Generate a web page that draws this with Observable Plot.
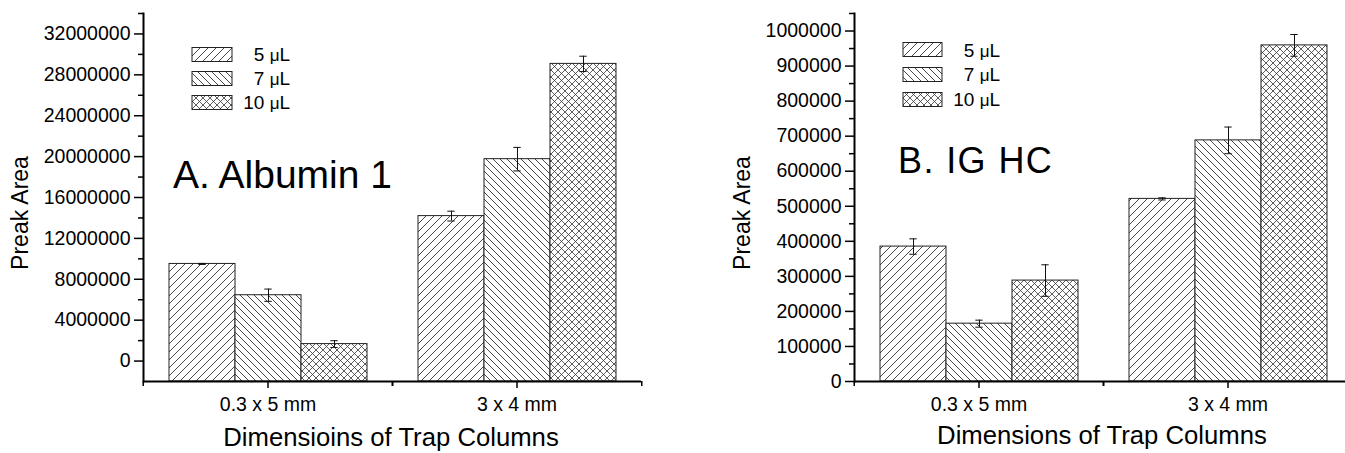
<!DOCTYPE html>
<html>
<head>
<meta charset="utf-8">
<script src="https://cdn.jsdelivr.net/npm/d3@7"></script>
<script src="https://cdn.jsdelivr.net/npm/@observablehq/plot@0.6"></script>
<style>
  html, body { margin: 0; padding: 0; background: #fff; }
  #page { position: relative; width: 1345px; height: 453px; overflow: hidden; background: #fff;
          font-family: "Liberation Sans", Arial, sans-serif; }
  #page > svg, #page > figure { position: absolute; top: 0; margin: 0; }
  #overlay { left: 0; top: 0; pointer-events: none; }
</style>
</head>
<body>
<div id="page">
  <svg width="0" height="0" style="position:absolute">
    <defs>
      <pattern id="p5" patternUnits="userSpaceOnUse" width="8" height="8">
        <rect width="8" height="8" fill="#fff"/>
        <path d="M-1,1 L1,-1 M0,8 L8,0 M7,9 L9,7" stroke="#333" stroke-width="0.9"/>
      </pattern>
      <pattern id="p7" patternUnits="userSpaceOnUse" width="7" height="7">
        <rect width="7" height="7" fill="#fff"/>
        <path d="M-1,6 L1,8 M0,0 L7,7 M6,-1 L8,1" stroke="#333" stroke-width="0.9"/>
      </pattern>
      <pattern id="p10" patternUnits="userSpaceOnUse" width="7" height="7">
        <rect width="7" height="7" fill="#fff"/>
        <path d="M-1,6 L1,8 M0,0 L7,7 M6,-1 L8,1 M-1,1 L1,-1 M0,7 L7,0 M6,8 L8,6" stroke="#333" stroke-width="0.8"/>
      </pattern>
    </defs>
  </svg>
</div>
<script>
// ---------- data ----------
const categories = ["0.3 x 5 mm", "3 x 4 mm"];
const series = ["5 μL", "7 μL", "10 μL"];
const seriesFills = ["url(#p5)", "url(#p7)", "url(#p10)"];

// Panel A: Albumin 1 (values per category)
const albumin5 = [9500000, 14180000];
const albumin7 = [6440000, 19750000];
const albumin10 = [1660000, 29070000];
const albuminErr5 = [50000, 480000];
const albuminErr7 = [600000, 1150000];
const albuminErr10 = [330000, 750000];

// Panel B: IG HC
const ighc5 = [385000, 521000];
const ighc7 = [165000, 688000];
const ighc10 = [288000, 959000];
const ighcErr5 = [22000, 3000];
const ighcErr7 = [10000, 38000];
const ighcErr10 = [45000, 31000];

// tick labels
const albuminTicks = [0, 4000000, 8000000, 12000000, 16000000, 20000000, 24000000, 28000000, 32000000];
const albuminMinor = [2000000, 6000000, 10000000, 14000000, 18000000, 22000000, 26000000, 30000000, 34000000];
const ighcTicks = [0, 100000, 200000, 300000, 400000, 500000, 600000, 700000, 800000, 900000, 1000000];
const ighcMinor = [50000, 150000, 250000, 350000, 450000, 550000, 650000, 750000, 850000, 950000, 1050000];
const albuminDomain = [-2000000, 34000000];
const ighcDomain = [0, 1050000];

function rowsOf(vals, errs) {
  const rows = [];
  categories.forEach((cat, i) => {
    series.forEach((s, j) => {
      rows.push({cat, series: s, value: vals[j][i], err: errs[j][i]});
    });
  });
  return rows;
}

function panel({rows, domain, ticks, minor, marginLeft, marginRight}) {
  const yMin = domain[0];
  const half = (680 - marginLeft - marginRight) / categories.length / 2;
  return Plot.plot({
    width: 680,
    height: 453,
    marginLeft, marginRight,
    marginTop: 13,
    marginBottom: 72,
    style: {fontFamily: "'Liberation Sans', Arial, sans-serif", fontSize: "19.5px", color: "#000", background: "transparent", overflow: "visible"},
    fx: {domain: categories, padding: 0, label: null},
    x: {domain: series, paddingInner: 0, paddingOuter: 0.37, axis: null},
    y: {domain, label: null},
    color: {domain: series, range: seriesFills},
    marks: [
      Plot.barY(rows, {fx: "cat", x: "series", y1: () => yMin, y2: "value", fill: "series", stroke: "#222", strokeWidth: 1}),
      Plot.ruleX(rows, {fx: "cat", x: "series", y1: d => d.value - d.err, y2: d => d.value + d.err, stroke: "#111", strokeWidth: 1}),
      Plot.tickY(rows, {fx: "cat", x: "series", y: d => d.value + d.err, insetLeft: 29.3, insetRight: 29.3, stroke: "#111", strokeWidth: 1}),
      Plot.tickY(rows, {fx: "cat", x: "series", y: d => d.value - d.err, insetLeft: 29.3, insetRight: 29.3, stroke: "#111", strokeWidth: 1}),
      Plot.axisY(ticks, {tickSize: 9, tickPadding: 4, tickFormat: d3.format("d"), strokeWidth: 1.5, label: null}),
      Plot.axisY(minor, {tickSize: 5, tickFormat: () => "", strokeWidth: 1.5, label: null}),
      Plot.axisFx({anchor: "bottom", tickSize: 7, tickPadding: 9, strokeWidth: 1.5, label: null}),
      Plot.axisFx({anchor: "bottom", tickSize: 5, tickFormat: () => "", dx: -half, strokeWidth: 1.5, label: null}),
      Plot.axisFx({anchor: "bottom", tickSize: 5, tickFormat: () => "", dx: half, strokeWidth: 1.5, label: null}),
      Plot.ruleY([yMin], {stroke: "#000", strokeWidth: 2}),
      Plot.frame({anchor: "left", facetAnchor: "left", stroke: "#000", strokeWidth: 2})
    ]
  });
}

const page = document.getElementById("page");

const left = panel({
  rows: rowsOf([albumin5, albumin7, albumin10], [albuminErr5, albuminErr7, albuminErr10]),
  domain: albuminDomain, ticks: albuminTicks, minor: albuminMinor,
  marginLeft: 142, marginRight: 39
});
left.style.left = "0px";
page.appendChild(left);

const right = panel({
  rows: rowsOf([ighc5, ighc7, ighc10], [ighcErr5, ighcErr7, ighcErr10]),
  domain: ighcDomain, ticks: ighcTicks, minor: ighcMinor,
  marginLeft: 173, marginRight: 8
});
right.style.left = "680px";
page.appendChild(right);

// ---------- overlay: titles, axis titles, legends ----------
const svg = d3.select(page).append("svg")
  .attr("id", "overlay").attr("width", 1345).attr("height", 453)
  .style("font-family", "'Liberation Sans', Arial, sans-serif");

const texts = [
  {t: "A. Albumin 1", x: 173, y: 188, size: 39, anchor: "start", ls: 0},
  {t: "B. IG HC", x: 898, y: 173, size: 36, anchor: "start", ls: 1.4},
  {t: "Dimensioins of Trap Columns", x: 391, y: 446, size: 25.7, anchor: "middle", ls: 0},
  {t: "Dimensions of Trap Columns", x: 1102, y: 444, size: 25.7, anchor: "middle", ls: 0}
];
texts.forEach(d => {
  svg.append("text").attr("x", d.x).attr("y", d.y).attr("font-size", d.size)
    .attr("text-anchor", d.anchor).attr("letter-spacing", d.ls).attr("fill", "#000").text(d.t);
});
[{x: 28, y: 213}, {x: 750, y: 213}].forEach(p => {
  svg.append("text").attr("transform", `translate(${p.x},${p.y}) rotate(-90)`)
    .attr("text-anchor", "middle").attr("font-size", 23).attr("fill", "#000").text("Preak Area");
});

const legends = [
  {bx: 192, bw: 40, by: [47.5, 71.5, 95.5], tx: 290, ty: [61, 85, 109]},
  {bx: 903, bw: 39, by: [42.5, 67.5, 92.5], tx: 1000, ty: [57, 81, 106]}
];
legends.forEach(L => {
  series.forEach((s, j) => {
    svg.append("rect").attr("x", L.bx).attr("y", L.by[j]).attr("width", L.bw).attr("height", 14)
      .attr("fill", seriesFills[j]).attr("stroke", "#222").attr("stroke-width", 1);
    const [num, unit] = s.split(" ");
    const t = svg.append("text").attr("x", L.tx).attr("y", L.ty[j]).attr("font-size", 19)
      .attr("text-anchor", "end").attr("fill", "#000");
    t.append("tspan").text(num + " ");
    t.append("tspan").attr("font-size", 17).text(unit.slice(0, 1));
    t.append("tspan").text(unit.slice(1));
  });
});
</script>
</body>
</html>
